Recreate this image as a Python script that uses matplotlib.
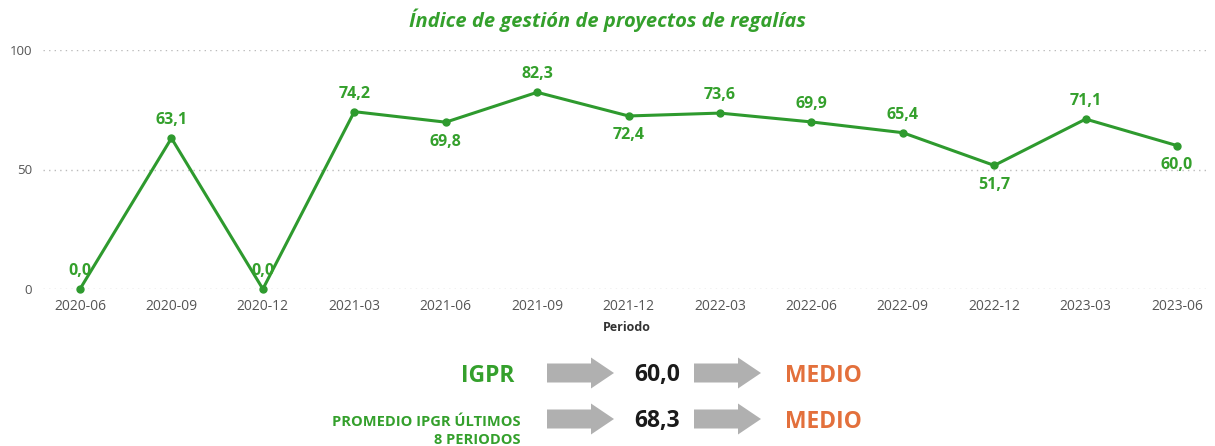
import matplotlib
matplotlib.use("Agg")
import matplotlib.pyplot as plt
from matplotlib.patches import FancyArrow

plt.rcParams['font.family'] = ['Open Sans', 'DejaVu Sans']

# data
periods = ['2020-06', '2020-09', '2020-12', '2021-03', '2021-06', '2021-09', '2021-12',
           '2022-03', '2022-06', '2022-09', '2022-12', '2023-03', '2023-06']
igpr = [0.0, 63.1, 0.0, 74.2, 69.8, 82.3, 72.4, 73.6, 69.9, 65.4, 51.7, 71.1, 60.0]
label_above = [True, True, True, True, False, True, False, True, True, True, False, True, False]

summary_labels = ['IGPR', 'PROMEDIO IPGR ÚLTIMOS\n8 PERIODOS']
summary_values = ['60,0', '68,3']
summary_levels = ['MEDIO', 'MEDIO']

green = '#2E9A2E'
text_green = '#34A02C'
orange = '#E3703C'
W, H = 1215, 446

fig = plt.figure(figsize=(W / 100, H / 100), dpi=100)
ax = fig.add_axes([43 / W, (H - 289) / H, 1167 / W, 239 / H])

x = list(range(len(periods)))
ax.plot(x, igpr, color=green, lw=2.2, marker='o', markersize=5, clip_on=False, zorder=3)

for xi, v, up in zip(x, igpr, label_above):
    lbl = f"{v:.1f}".replace('.', ',')
    ax.annotate(lbl, (xi, v), xytext=(0, 13 if up else -14), textcoords='offset points',
                ha='center', va='center', color=text_green, fontsize=11.5, fontweight='bold')

ax.set_xlim(-0.405, 12.36)
ax.set_ylim(0, 100)
ax.set_yticks([0, 50, 100])
ax.set_xticks(x)
ax.set_xticklabels(periods)
ax.tick_params(axis='x', length=0, labelsize=10, colors='#555555', pad=7)
ax.tick_params(axis='y', length=0, labelsize=9.5, colors='#555555', pad=8)
ax.grid(axis='y', linestyle=(0, (1, 3)), color='#BBBBBB', lw=1)
ax.set_axisbelow(True)
for s in ax.spines.values():
    s.set_visible(False)
ax.set_xlabel('Periodo', fontsize=9, fontweight='bold', color='#333333', labelpad=5)

fig.text(0.5, 1 - 20 / H, 'Índice de gestión de proyectos de regalías', ha='center', va='center',
         color=text_green, fontsize=14.5, fontweight='bold', fontstyle='italic')

# summary block below the chart
ov = fig.add_axes([0, 0, 1, 1])
ov.set_xlim(0, W)
ov.set_ylim(H, 0)
ov.axis('off')

row_y = [373, 419]
for i, (lab, val, lev) in enumerate(zip(summary_labels, summary_values, summary_levels)):
    y = row_y[i]
    if i == 0:
        ov.text(514, y + 3, lab, ha='right', va='center', color=text_green, fontsize=16.5, fontweight='bold')
    else:
        ov.text(521, y + 12, lab, ha='right', va='center', color=text_green, fontsize=10.5,
                fontweight='bold', linespacing=1.3, multialignment='right')
    for x0 in (547, 694):
        ov.add_patch(FancyArrow(x0, y, 44, 0, width=19, head_width=31, head_length=23,
                                length_includes_head=False, color='#B0B0B0', lw=0))
    ov.text(680, y + 2, val, ha='right', va='center', color='#1A1A1A', fontsize=16.5, fontweight='bold')
    ov.text(785, y + 3, lev, ha='left', va='center', color=orange, fontsize=16.5, fontweight='bold')

fig.savefig('out.png', dpi=100)
